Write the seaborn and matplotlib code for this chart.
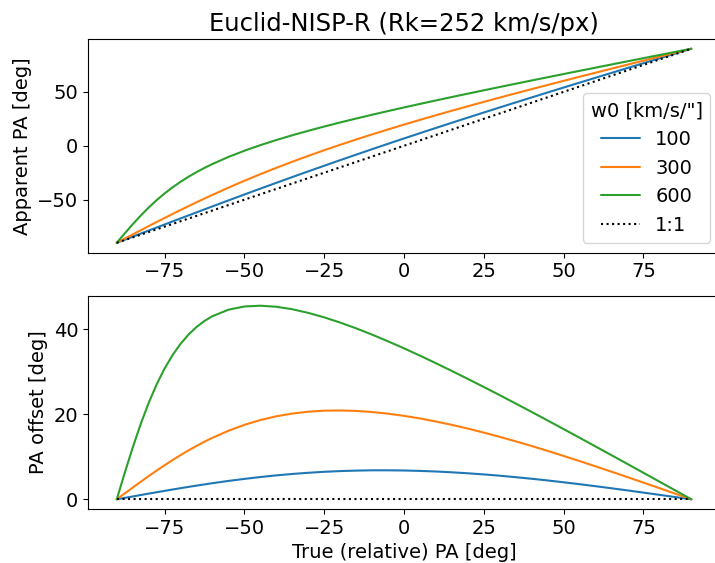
import numpy as np
import pandas as pd
import matplotlib
matplotlib.use("Agg")
import matplotlib.pyplot as plt
from matplotlib.lines import Line2D
import seaborn as sns

# ---- data ----
true_pa = [-90, -87.5, -85, -82.5, -80, -77.5, -75, -72.5, -70, -67.5, -65, -62.5, -60,
           -55, -50, -45, -40, -35, -30, -25, -20, -15, -10, -5, 0, 5, 10, 15, 20, 25,
           30, 35, 40, 45, 50, 55, 60, 65, 70, 75, 80, 85, 90]
w0_values = ["100", "300", "600"]

apparent_100 = [-90, -87.16, -84.33, -81.49, -78.66, -75.83, -73.01, -70.19, -67.37, -64.57,
                -61.77, -58.99, -56.20, -50.67, -45.19, -39.75,
                -34.36, -29.03, -23.75, -18.52, -13.35, -8.24, -3.17, 1.83, 6.79, 11.69,
                16.55, 21.36, 26.13, 30.86, 35.56, 40.21, 44.84, 49.44, 54.01, 58.56,
                63.09, 67.60, 72.10, 76.58, 81.06, 85.53, 90]
apparent_300 = [-90, -86.11, -82.23, -78.38, -74.53, -70.73, -66.97, -63.25, -59.58, -55.97,
                -52.42, -48.93, -45.51, -38.85, -32.46, -26.33,
                -20.45, -14.81, -9.37, -4.13, 0.92, 5.81, 10.55, 15.16, 19.65, 24.04,
                28.32, 32.52, 36.65, 40.70, 44.70, 48.65, 52.54, 56.40, 60.21, 64.00,
                67.76, 71.50, 75.23, 78.93, 82.63, 86.32, 90]
apparent_600 = [-90, -81.29, -72.82, -64.78, -57.30, -50.44, -44.19, -38.53, -33.38, -28.71,
                -24.43, -20.50, -16.88, -10.36, -4.60, 0.58,
                5.33, 9.75, 13.89, 17.84, 21.61, 25.25, 28.77, 32.19, 35.54, 38.82,
                42.04, 45.21, 48.34, 51.44, 54.51, 57.54, 60.56, 63.55, 66.53, 69.49,
                72.44, 75.38, 78.32, 81.24, 84.16, 87.08, 90]

offset_100 = [0, 0.34, 0.67, 1.01, 1.34, 1.67, 1.99, 2.31, 2.63, 2.93, 3.23, 3.51, 3.80,
              4.33, 4.81, 5.25, 5.64, 5.97, 6.25,
              6.48, 6.65, 6.76, 6.83, 6.83, 6.79, 6.69, 6.55, 6.36, 6.13, 5.86, 5.56,
              5.21, 4.84, 4.44, 4.01, 3.56, 3.09, 2.60, 2.10, 1.58, 1.06, 0.53, 0]
offset_300 = [0, 1.39, 2.77, 4.12, 5.47, 6.77, 8.03, 9.25, 10.42, 11.53, 12.58, 13.57,
              14.49, 16.15, 17.54, 18.67, 19.55, 20.19,
              20.63, 20.87, 20.92, 20.81, 20.55, 20.16, 19.65, 19.04, 18.32, 17.52, 16.65,
              15.70, 14.70, 13.65, 12.54, 11.40, 10.21, 9.00, 7.76, 6.50, 5.23, 3.93,
              2.63, 1.32, 0]
offset_600 = [0, 6.21, 12.18, 17.72, 22.70, 27.06, 30.81, 33.97, 36.62, 38.79, 40.57, 42.00,
              43.12, 44.64, 45.40, 45.58, 45.33,
              44.75, 43.89, 42.84, 41.61, 40.25, 38.77, 37.19, 35.54, 33.82, 32.04, 30.21,
              28.34, 26.44, 24.51, 22.54, 20.56, 18.55, 16.53, 14.49, 12.44, 10.38, 8.32,
              6.24, 4.16, 2.08, 0]

one_to_one_x = [-90, 90]
one_to_one_y = [-90, 90]
zero_offset = [0, 0]

title = "Euclid-NISP-R (Rk=252 km/s/px)"
legend_title = 'w0 [km/s/"]'

# ---- build long-form table ----
rows = []
for w, app, off in zip(w0_values, [apparent_100, apparent_300, apparent_600],
                       [offset_100, offset_300, offset_600]):
    for t, a, o in zip(true_pa, app, off):
        rows.append({"true": t, "apparent": a, "offset": o, "w0": w})
df = pd.DataFrame(rows)

sns.set_style("ticks")
plt.rcParams["font.family"] = ["DejaVu Sans"]
plt.rcParams["axes.edgecolor"] = "black"
plt.rcParams["xtick.color"] = "black"
plt.rcParams["ytick.color"] = "black"
plt.rcParams["text.color"] = "black"
plt.rcParams["axes.labelcolor"] = "black"
plt.rcParams["axes.linewidth"] = 0.8
fs = 14

palette = ["#1f77b4", "#ff7f0e", "#2ca02c"]

fig = plt.figure(figsize=(7.15, 5.63), dpi=100)
ax1 = fig.add_axes([0.1231, 0.5515, 0.884, 0.3792])
ax2 = fig.add_axes([0.1231, 0.0959, 0.884, 0.3783])

sns.lineplot(data=df, x="true", y="apparent", hue="w0", hue_order=w0_values,
             palette=palette, linewidth=1.5, ax=ax1, legend=False, sort=False)
ax1.plot(one_to_one_x, one_to_one_y, ":", color="black", linewidth=1.5)

sns.lineplot(data=df, x="true", y="offset", hue="w0", hue_order=w0_values,
             palette=palette, linewidth=1.5, ax=ax2, legend=False, sort=False)
ax2.plot(one_to_one_x, zero_offset, ":", color="black", linewidth=1.5)

ax1.set_xlim(-99, 99)
ax1.set_ylim(-99, 99)
ax2.set_xlim(-99, 99)
ax2.set_ylim(-2.28, 47.86)

ax1.set_xticks([-75, -50, -25, 0, 25, 50, 75])
ax2.set_xticks([-75, -50, -25, 0, 25, 50, 75])
ax1.set_yticks([-50, 0, 50])
ax2.set_yticks([0, 20, 40])

ax1.set_title(title, fontsize=17.5)
ax1.set_xlabel("")
ax1.set_ylabel("Apparent PA [deg]", fontsize=fs)
ax2.set_xlabel("True (relative) PA [deg]", fontsize=fs)
ax2.set_ylabel("PA offset [deg]", fontsize=fs)

for ax in (ax1, ax2):
    ax.tick_params(labelsize=fs, direction="out", length=3.5, width=0.8)
    for s in ax.spines.values():
        s.set_visible(True)
        s.set_linewidth(0.8)

handles = [Line2D([], [], color=c, lw=1.5) for c in palette]
handles.append(Line2D([], [], color="black", ls=":", lw=1.5))
labels = w0_values + ["1:1"]
leg = ax1.legend(handles, labels, title=legend_title, loc="lower right",
                 fontsize=fs, title_fontsize=fs, frameon=True, borderaxespad=0.5)
leg.get_frame().set_edgecolor("#cccccc")

fig.savefig("out.png", dpi=100)
